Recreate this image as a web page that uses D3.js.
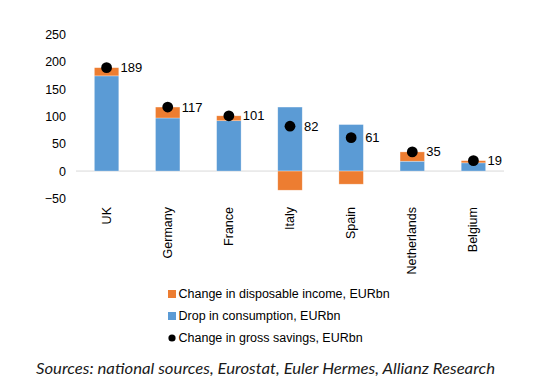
<!DOCTYPE html>
<html><head><meta charset="utf-8">
<script src="https://cdn.jsdelivr.net/npm/d3@7"></script>
<style>body{margin:0;background:#fff}svg{display:block}</style>
</head><body>
<svg id="c" width="535" height="380"></svg>
<script>
const categories = ["UK","Germany","France","Italy","Spain","Netherlands","Belgium"];
const incomeChange = [15, 20, 9, -35, -24, 17, 4];
const consumptionDrop = [174, 97, 92, 117, 85, 18, 15];
const savings = [189, 117, 101, 82, 61, 35, 19];
const yTicks = [-50, 0, 50, 100, 150, 200, 250];
const legendLabels = ["Change in disposable income, EURbn","Drop in consumption, EURbn","Change in gross savings, EURbn"];
const sourceText = "Sources: national sources, Eurostat, Euler Hermes, Allianz Research";

const orange = "#ED7D31", blue = "#5B9BD5";
const svg = d3.select("#c");
const font = "Arial, 'Liberation Sans', Helvetica, sans-serif";

const x = d3.scaleBand().domain(categories).range([76, 504]).paddingInner(0.6).paddingOuter(0.3);
const y = d3.scaleLinear().domain([-50, 250]).range([198.4, 34.3]);

const ya = svg.append("g").attr("transform","translate(66,0)")
  .call(d3.axisLeft(y).tickValues(yTicks).tickSize(0).tickPadding(0).tickFormat(d3.format("d")));
ya.attr("font-family", font);
ya.select(".domain").remove();
ya.selectAll("text").style("font-family", font).attr("font-size", 12.5).attr("fill","#000");

svg.append("line").attr("x1",76).attr("x2",504).attr("y1",y(0)).attr("y2",y(0))
  .attr("stroke","#d9d9d9").attr("stroke-width",1);

const idx = d3.range(categories.length);
svg.append("g").selectAll("rect").data(idx).join("rect")
  .attr("x", i => x(categories[i])).attr("width", x.bandwidth())
  .attr("y", i => y(consumptionDrop[i])).attr("height", i => y(0) - y(consumptionDrop[i]))
  .attr("fill", blue).attr("stroke","#fff").attr("stroke-opacity",0.5).attr("stroke-width",0.6);
svg.append("g").selectAll("rect").data(idx).join("rect")
  .attr("x", i => x(categories[i])).attr("width", x.bandwidth())
  .attr("y", i => incomeChange[i] >= 0 ? y(consumptionDrop[i] + incomeChange[i]) : y(0))
  .attr("height", i => Math.abs(y(0) - y(incomeChange[i])))
  .attr("fill", orange).attr("stroke","#fff").attr("stroke-opacity",0.5).attr("stroke-width",0.6);

svg.append("g").selectAll("circle").data(idx).join("circle")
  .attr("cx", i => x(categories[i]) + x.bandwidth()/2).attr("cy", i => y(savings[i]))
  .attr("r", 5.4).attr("fill","#000");
svg.append("g").selectAll("text").data(idx).join("text")
  .attr("x", i => x(categories[i]) + x.bandwidth()/2 + 14).attr("y", i => y(savings[i]))
  .attr("dy","0.35em").style("font-family", font).attr("font-size", 13).attr("fill","#000")
  .text(i => savings[i]);

svg.append("g").selectAll("text").data(categories).join("text")
  .attr("transform", d => `translate(${x(d) + x.bandwidth()/2 + 4},207) rotate(-90)`)
  .attr("text-anchor","end").style("font-family", font).attr("font-size", 12.5).attr("fill","#000")
  .text(d => d);

const lg = svg.append("g");
const ly = [294, 316, 338];
lg.append("rect").attr("x",168).attr("y",ly[0]-4).attr("width",8).attr("height",8).attr("fill",orange);
lg.append("rect").attr("x",168).attr("y",ly[1]-4).attr("width",8).attr("height",8).attr("fill",blue);
lg.append("circle").attr("cx",172).attr("cy",ly[2]).attr("r",3.6).attr("fill","#000");
lg.selectAll("text").data(legendLabels).join("text")
  .attr("x",178.5).attr("y",(d,i)=>ly[i]).attr("dy","0.35em")
  .style("font-family", font).attr("font-size", 12.5).attr("fill","#000").text(d=>d);

svg.append("text").attr("x",36).attr("y",374).style("font-family","Lato, 'Open Sans', sans-serif")
  .attr("font-style","italic").attr("font-size",15.5).attr("fill","#1a1a1a")
  .attr("textLength",459).attr("lengthAdjust","spacingAndGlyphs").text(sourceText);
</script>
</body></html>
